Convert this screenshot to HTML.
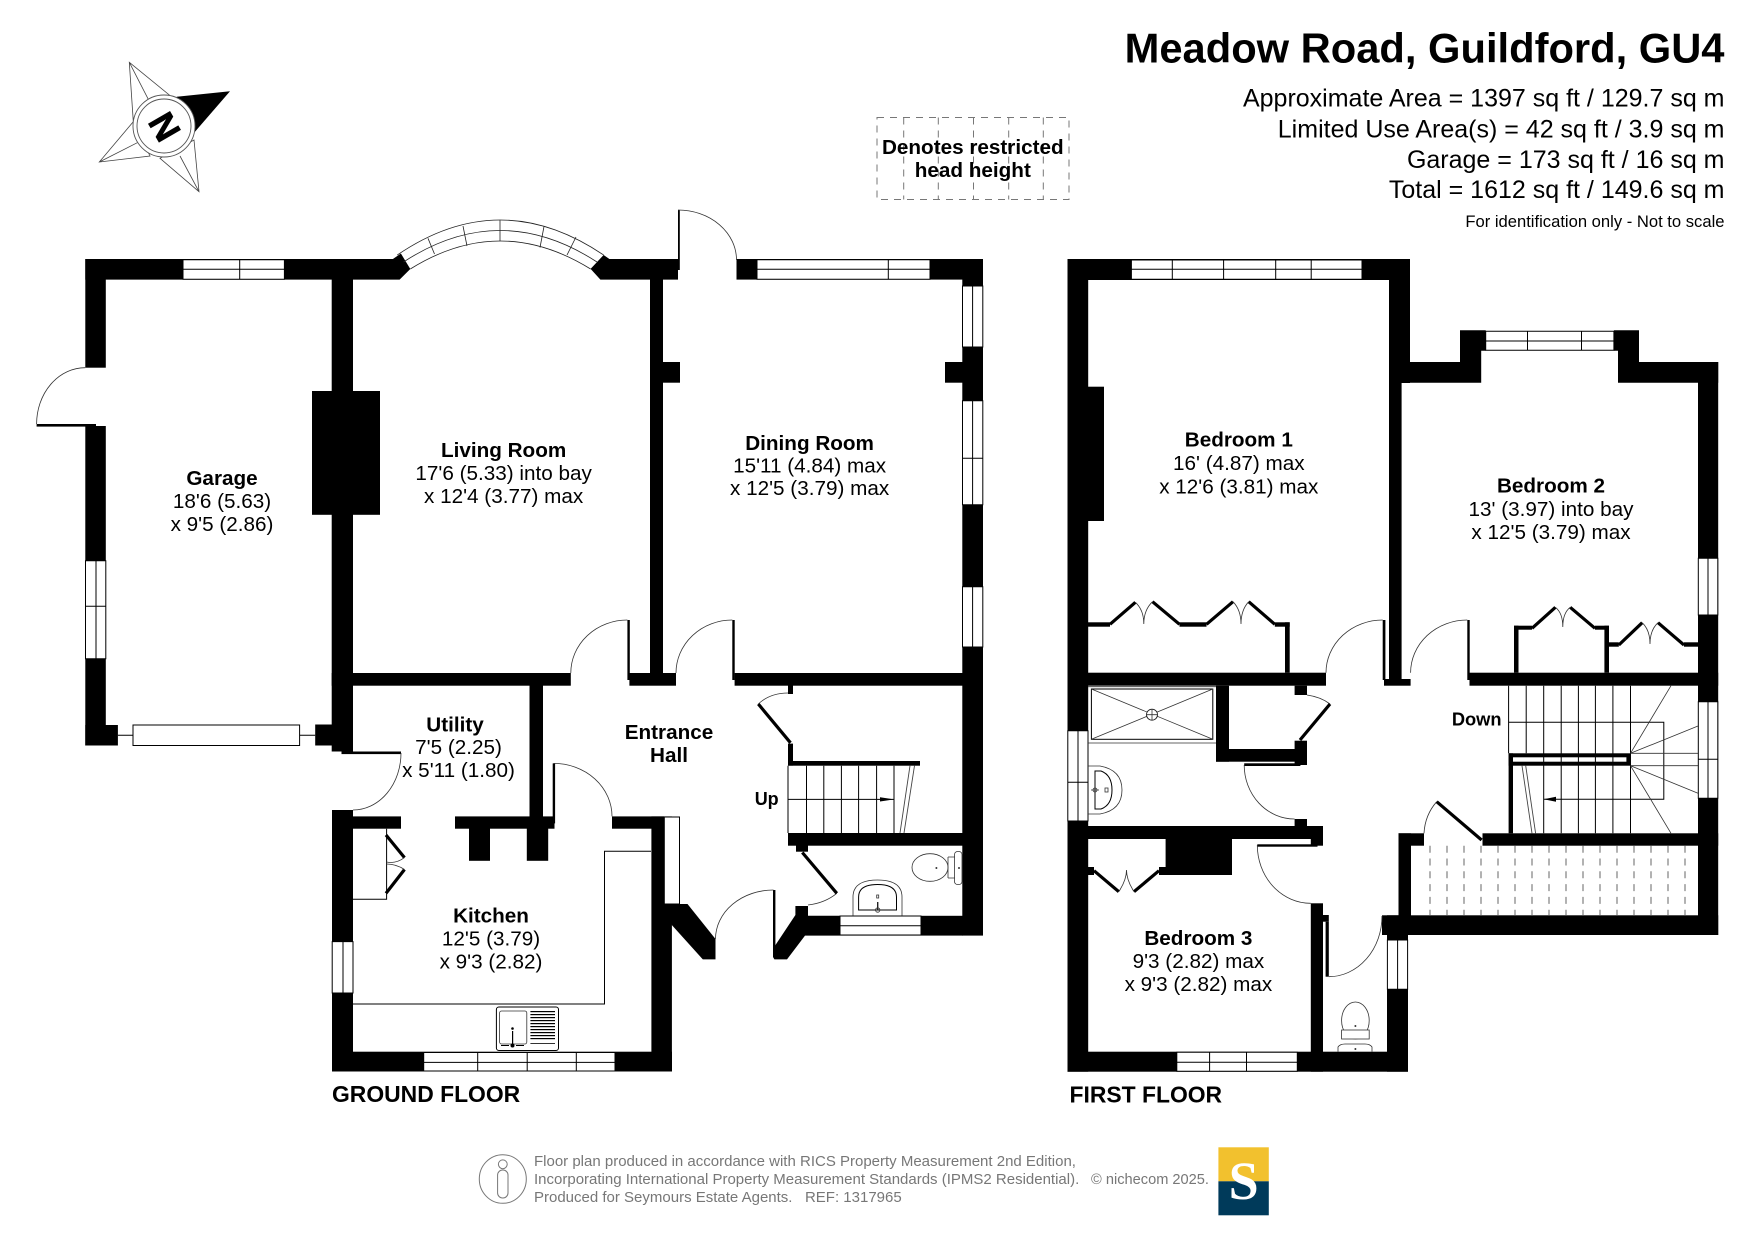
<!DOCTYPE html>
<html>
<head>
<meta charset="utf-8">
<title>Meadow Road, Guildford, GU4</title>
<style>
html,body{margin:0;padding:0;background:#fff}
svg{display:block}
text{font-family:"Liberation Sans",Arial,sans-serif;fill:#000}
.n{font-weight:bold;font-size:20.7px;text-anchor:middle}
.d{font-size:20.7px;text-anchor:middle}
.a{font-size:25px;text-anchor:end}
.f{font-size:15px;fill:#777}
.t{fill:none;stroke:#000;stroke-width:1}
.w{fill:#fff;stroke:#000;stroke-width:1}
.k{fill:none;stroke:#000;stroke-width:3.2}
.h{fill:none;stroke:#333;stroke-width:.8}
</style>
</head>
<body>
<svg xmlns="http://www.w3.org/2000/svg" width="1755" height="1241" viewBox="0 0 1755 1241">
<rect width="1755" height="1241" fill="#fff"/>

<!-- Compass -->
<g fill="#fff" stroke="#444" stroke-width=".8">
<path d="M129.3,62.3L169.3,95L133.3,121.7ZM129.3,62.3L148.3,99.3"/>
<path d="M99.3,162L133.3,121.7L150,156ZM99.3,162L137.3,142.7"/>
<path d="M199,191.7L160,158.3L194,140ZM199,191.7L180,156"/>
</g>
<path d="M176.7,96.7L230,91.3L195,131.7Z" fill="#000"/>
<circle cx="164" cy="126" r="31" fill="#fff" stroke="#555" stroke-width=".9"/>
<circle cx="164" cy="126" r="27" fill="#fff" stroke="#555" stroke-width=".9"/>
<text x="0" y="0" font-size="36" font-weight="bold" text-anchor="middle" stroke="#000" stroke-width=".7" transform="translate(165,126.5) rotate(60) translate(0,13)">N</text>

<!-- Restricted key -->
<g fill="none" stroke="#777" stroke-width="1" stroke-dasharray="7 6">
<rect x="877" y="117.5" width="192" height="82"/>
<path d="M903.7,117.5V199.5M938.3,117.5V199.5M973.5,117.5V199.5M1008.7,117.5V199.5M1043.3,117.5V199.5"/>
</g>
<text class="n" x="972.8" y="154">Denotes restricted</text>
<text class="n" x="972.8" y="177">head height</text>

<!-- Header -->
<text x="1724.5" y="62.7" font-size="41.7" font-weight="bold" text-anchor="end">Meadow Road, Guildford, GU4</text>
<text class="a" x="1724.5" y="106.7">Approximate Area = 1397 sq ft / 129.7 sq m</text>
<text class="a" x="1724.5" y="137.7">Limited Use Area(s) = 42 sq ft / 3.9 sq m</text>
<text class="a" x="1724.5" y="168">Garage = 173 sq ft / 16 sq m</text>
<text class="a" x="1724.5" y="198">Total = 1612 sq ft / 149.6 sq m</text>
<text x="1724.5" y="227" font-size="16.6" text-anchor="end">For identification only - Not to scale</text>

<!-- GROUND FLOOR WALLS -->
<g fill="#000">
<path d="M85.3,259H392.9L400.9,253.5L410.3,269L399.6,279.6H85.3Z"/>
<path d="M600.4,279.6L590.6,268.9L603.6,255L609.4,259H678V279.6Z"/>
<rect x="736.5" y="259" width="246.5" height="20.6"/>
<rect x="962.3" y="259" width="20.7" height="676.6"/>
<rect x="85.3" y="259" width="20.5" height="108.7"/>
<rect x="85.3" y="426" width="20.5" height="319.5"/>
<rect x="36.6" y="424" width="59.4" height="2.6"/>
<rect x="85.3" y="725" width="32.6" height="20.5"/>
<rect x="315.2" y="724.5" width="17" height="21"/>
<rect x="331.7" y="279" width="21.3" height="472.5"/>
<rect x="312" y="391" width="68" height="123.8"/>
<rect x="341.5" y="751.5" width="59.5" height="2.6"/>
<rect x="650" y="279" width="13" height="406"/>
<rect x="663" y="362" width="17" height="20.7"/>
<rect x="945" y="362" width="18" height="20.7"/>
<rect x="678" y="210" width="1.8" height="60"/>
<rect x="331.7" y="673" width="239.1" height="12.7"/>
<rect x="629.4" y="673" width="46.6" height="12.7"/>
<rect x="734.6" y="673" width="228" height="12.7"/>
<rect x="627.4" y="620" width="2.4" height="60"/>
<rect x="732.3" y="620" width="2.4" height="60"/>
<rect x="529.5" y="685" width="13.5" height="135"/>
<rect x="332" y="810" width="21" height="261.5"/>
<rect x="353" y="816.4" width="48" height="12.3"/>
<rect x="455" y="816.4" width="99.5" height="12.3"/>
<rect x="469" y="828" width="21" height="32.8"/>
<rect x="526.8" y="828" width="21.4" height="32.8"/>
<rect x="552.7" y="763.4" width="2.4" height="60"/>
<rect x="612" y="816.4" width="52" height="12.3"/>
<rect x="651.4" y="816.4" width="20.5" height="255.1"/>
<rect x="332" y="1051.7" width="340" height="19.8"/>
<path d="M664,904H687.5L715.5,939V959.4H702.8L671.8,925Z"/>
<rect x="773" y="890" width="2.4" height="60"/>
<path d="M773,948.7L795.4,915V906H808V915.8H840V935.6H805L787,959.4H774.4L773,957Z"/>
<rect x="840" y="915.8" width="123" height="19.8"/>
<rect x="788" y="685" width="5" height="9"/>
<rect x="788" y="743.6" width="5" height="22"/>
<rect x="788" y="761" width="132" height="4.7"/>
<rect x="788" y="833" width="175" height="12.7"/>
<rect x="796" y="845" width="12" height="6.7"/>
</g>

<!-- ground floor windows -->
<path class="w" d="M183,259.8H284.4V279.3H183ZM183,269.3H284.4M239.7,259.8V279.3"/>
<path class="w" d="M757,259.8H930V279.3H757ZM757,269.3H930M888.3,259.8V279.3"/>
<path class="w" d="M962.5,286H982.8V347H962.5ZM972.6,286V347"/>
<path class="w" d="M962.5,400.7H982.8V504.7H962.5ZM972.6,400.7V504.7M962.5,458.3H982.8"/>
<path class="w" d="M962.5,586.7H982.8V647H962.5ZM972.6,586.7V647"/>
<path class="w" d="M85.5,560.7H105.8V658.8H85.5ZM96,560.7V658.8M85.5,606.2H105.8"/>
<path class="w" d="M332.2,941.6H353V993H332.2ZM343,941.6V993"/>
<path class="w" d="M423.7,1052.5H615V1071H423.7ZM423.7,1062.4H615M477.7,1052.5V1071M527.2,1052.5V1071M576.3,1052.5V1071"/>
<path class="w" d="M840,916H921V935H840ZM840,925.7H921"/>
<path class="w" d="M664.3,817H679.5V904H664.3Z"/>
<rect class="w" x="133" y="725" width="166.6" height="20.5"/>
<path class="t" d="M117.9,735.2H133M299.6,735.2H315.2"/>

<!-- bay -->
<g fill="none" stroke="#222" stroke-width=".8">
<path d="M397.3,255Q500,185 603.6,255"/>
<path d="M403.5,262Q500,199 597,262"/>
<path d="M410.3,269Q500,213 590.6,269"/>
<path d="M428,238.3L434.5,254M463,226L467,246M500,220.3V241.2M544,226.5L540,247.5M576,237L567,255"/>
</g>

<!-- ground floor doors -->
<g class="h">
<path d="M85.3,367.7A48.7,56.3 0 0 0 36.6,424"/>
<path d="M678,210A58.5,50 0 0 1 736.5,260"/>
<path d="M627.4,620A56.6,53 0 0 0 570.8,673"/>
<path d="M732.3,620A56.3,53 0 0 0 676,673"/>
<path d="M401,753A48,57 0 0 1 353,810"/>
<path d="M553.6,763.4A58.4,53 0 0 1 612,816.4"/>
<path d="M773.5,890A58,49 0 0 0 715.5,939"/>
<path d="M788,693Q770,693 758.3,704"/>
<path d="M836.8,893.3Q825,903 808,905"/>
</g>
<path class="k" d="M758.3,704L790.5,742.8M802.3,852.5L836.8,893.3"/>

<!-- Kitchen fittings -->
<path class="t" d="M651,851.3H604.5V1004H353"/>
<path class="t" d="M353,899.2H386.6V828.7"/>
<path class="k" d="M386,835L404.5,857.6M404.5,869.5L386,893.3"/>
<path class="h" d="M404.5,857.6Q396,864 386.5,862M404.5,869.5Q396,864 386.5,864"/>
<rect class="t" x="496.4" y="1007" width="62.1" height="43.5" rx="2.5"/>
<rect class="h" x="499.6" y="1011" width="27.2" height="33" rx="2"/>
<g fill="#000">
<rect x="530.4" y="1011" width="24.6" height="1.2"/><rect x="530.4" y="1014" width="24.6" height="1.2"/><rect x="530.4" y="1017" width="24.6" height="1.2"/><rect x="530.4" y="1020" width="24.6" height="1.2"/><rect x="530.4" y="1023" width="24.6" height="1.2"/><rect x="530.4" y="1026" width="24.6" height="1.2"/><rect x="530.4" y="1029" width="24.6" height="1.2"/><rect x="530.4" y="1032" width="24.6" height="1.2"/><rect x="530.4" y="1035" width="24.6" height="1.2"/><rect x="530.4" y="1038" width="24.6" height="1.2"/><rect x="530.4" y="1043" width="24.6" height=".8"/>
<rect x="512" y="1031" width="1.2" height="15"/>
<circle cx="512.5" cy="1028.5" r="1.3"/>
<circle cx="512.5" cy="1045.5" r="2"/>
<rect x="501" y="1045" width="8" height="1"/>
<rect x="516" y="1045" width="8" height="1"/>
</g>

<!-- Ground stairs -->
<path class="t" d="M788,765.7V833M806.5,765.7V833M823.8,765.7V833M841.4,765.7V833M858.6,765.7V833M876.6,765.7V833M894,765.7V833M788,799.4H894"/>
<path d="M880,797.3L894,799.4L880,801.5Z" fill="#000"/>
<path d="M910,765.7L900,833M914.5,765.7L904,833" fill="none" stroke="#444" stroke-width=".9"/>

<!-- Ground WC -->
<path class="h" d="M853,915.8V897Q853,880 877.5,880Q902,880 902,897V915.8"/>
<path class="t" d="M858.6,910V897Q858.6,884.5 877.5,884.5Q896.5,884.5 896.5,897V910H858.6Z"/>
<rect class="h" x="876.7" y="895" width="2" height="3"/>
<path d="M877.7,902V910" stroke="#222" stroke-width="1.4"/>
<circle class="h" cx="877.7" cy="910" r="2.2"/>
<ellipse class="h" cx="930" cy="867.5" rx="18" ry="13.8"/>
<rect class="h" x="954.5" y="851.5" width="7.5" height="33" rx="3"/>
<path class="h" d="M948,857V878M948,857H955M948,878H955"/>
<circle cx="936.4" cy="868" r="1" fill="#333"/><circle cx="959" cy="868" r="1" fill="#333"/>

<!-- Ground labels -->
<text class="n" x="222" y="485">Garage</text>
<text class="d" x="222" y="508">18'6 (5.63)</text>
<text class="d" x="222" y="531">x 9'5 (2.86)</text>
<text class="n" x="503.6" y="456.8">Living Room</text>
<text class="d" x="503.6" y="480">17'6 (5.33) into bay</text>
<text class="d" x="503.6" y="503">x 12'4 (3.77) max</text>
<text class="n" x="809.6" y="450">Dining Room</text>
<text class="d" x="809.6" y="472.4">15'11 (4.84) max</text>
<text class="d" x="809.6" y="495">x 12'5 (3.79) max</text>
<text class="n" x="455" y="731.7">Utility</text>
<text class="d" x="458.5" y="754.2">7'5 (2.25)</text>
<text class="d" x="458.5" y="777.2">x 5'11 (1.80)</text>
<text class="n" x="491" y="922.6">Kitchen</text>
<text class="d" x="491" y="945.6">12'5 (3.79)</text>
<text class="d" x="491" y="968.6">x 9'3 (2.82)</text>
<text class="n" x="669" y="738.8">Entrance</text>
<text class="n" x="669" y="761.8">Hall</text>
<text x="766.7" y="805" font-size="18" font-weight="bold" text-anchor="middle">Up</text>
<text x="332" y="1102" font-size="22.9" font-weight="bold">GROUND FLOOR</text>

<!-- FIRST FLOOR WALLS -->
<g fill="#000">
<rect x="1067.5" y="259" width="342.5" height="21"/>
<rect x="1067.5" y="259" width="20.7" height="812.7"/>
<rect x="1088" y="386.7" width="16" height="134.3"/>
<rect x="1389" y="259" width="21" height="124"/>
<rect x="1389" y="362" width="12.6" height="317"/>
<path d="M1410,362H1460V330.3H1485.7V350.7H1481.2V382.7H1401V362Z"/>
<path d="M1613.9,330.3H1639V362H1718.2V382.7H1618V350.7H1613.9Z"/>
<rect x="1698" y="362" width="20.2" height="573"/>
<rect x="1088" y="672.7" width="238" height="13"/>
<rect x="1382.7" y="620" width="2.7" height="60"/>
<rect x="1384" y="679" width="26.6" height="6.7"/>
<rect x="1467.3" y="620" width="2.4" height="60"/>
<rect x="1469.5" y="672.7" width="248.7" height="13"/>
<rect x="1216" y="685.7" width="13" height="76"/>
<rect x="1216" y="749" width="91" height="12.7"/>
<rect x="1294.6" y="740.7" width="12.4" height="24.3"/>
<rect x="1294.6" y="685.7" width="12.4" height="9.3"/>
<rect x="1244.2" y="763.3" width="56.2" height="2.7"/>
<rect x="1294.6" y="819" width="12.4" height="8"/>
<rect x="1067.5" y="826" width="255.5" height="13"/>
<rect x="1310.8" y="826" width="12.2" height="19.7"/>
<rect x="1257.3" y="844.3" width="60.2" height="2.4"/>
<rect x="1165.6" y="839" width="66.4" height="36"/>
<rect x="1088" y="867" width="6" height="8"/>
<rect x="1159" y="867" width="7" height="8"/>
<rect x="1310.8" y="903.3" width="12.2" height="168.4"/>
<rect x="1323" y="915" width="5.8" height="6.7"/>
<rect x="1325.6" y="921.7" width="3.2" height="55"/>
<rect x="1387" y="915.3" width="21" height="156.4"/>
<rect x="1382" y="915.3" width="336.2" height="19.7"/>
<rect x="1398.5" y="833.3" width="12.5" height="85"/>
<rect x="1398.5" y="833.3" width="25.5" height="12.4"/>
<rect x="1482.5" y="833.3" width="235.7" height="12.4"/>
<rect x="1067.5" y="1051.7" width="340.5" height="20"/>
<rect x="1508.6" y="753.3" width="121.6" height="12.4"/>
<rect x="1508.6" y="753.3" width="4.4" height="80"/>
<rect x="1088" y="622.3" width="22" height="4.4"/>
<rect x="1179.5" y="622.3" width="27" height="4.4"/>
<rect x="1274.8" y="622.3" width="14.9" height="4.4"/>
<rect x="1285" y="622.3" width="4.7" height="50.4"/>
<rect x="1514" y="625.7" width="18" height="4"/>
<rect x="1514" y="625.7" width="4.5" height="47"/>
<rect x="1595" y="625.7" width="14" height="4"/>
<rect x="1604.4" y="625.7" width="4.6" height="47"/>
<rect x="1609" y="642.3" width="9.8" height="4.4"/>
<rect x="1684" y="642.3" width="14" height="4.4"/>
</g>
<rect x="1513" y="757.3" width="113.4" height="4.4" fill="#fff"/>

<!-- first floor windows -->
<path class="w" d="M1131.4,260H1362V279.3H1131.4ZM1131.4,269.3H1362M1172.3,260V279.3M1223.6,260V279.3M1275.7,260V279.3M1311.2,260V279.3"/>
<path class="w" d="M1485.7,331.3H1613.9V350.3H1485.7ZM1485.7,341H1613.9M1527.5,331.3V350.3M1581.5,331.3V350.3"/>
<path class="w" d="M1698.3,558.3H1717.8V615H1698.3ZM1708,558.3V615"/>
<path class="w" d="M1698.3,701.7H1717.8V798.3H1698.3ZM1708,701.7V798.3M1698.3,759.3H1717.8"/>
<path class="w" d="M1067.8,730.7H1088V821H1067.8ZM1078,730.7V821M1067.8,782.3H1088"/>
<path class="w" d="M1176.8,1052.2H1297.3V1071.2H1176.8ZM1176.8,1062.3H1297.3M1209.6,1052.2V1071.2M1246.5,1052.2V1071.2"/>
<path class="w" d="M1387.4,940H1407.6V989.3H1387.4ZM1397.6,940V989.3"/>

<!-- first floor doors -->
<g class="h">
<path d="M1382.7,620A56.7,52.7 0 0 0 1326,672.7"/>
<path d="M1467.3,620A56.7,52.7 0 0 0 1410.6,672.7"/>
<path d="M1244.2,765A50.4,54 0 0 0 1294.6,819"/>
<path d="M1257.3,845A53.5,58.3 0 0 0 1310.8,903.3"/>
<path d="M1328.8,976.7A53.2,60.7 0 0 0 1382,916"/>
<path d="M1424,833.3Q1425,815 1436.7,801.7"/>
<path d="M1307,695Q1321,697 1330,704"/>
</g>
<path class="k" d="M1330,704L1300,740M1436.7,801.7L1481.6,840"/>

<!-- wardrobes -->
<path class="k" d="M1110,624.3L1135.4,602.3M1152.5,601.7L1179.5,624.3M1206.5,624.3L1233,601.7M1248.7,601.7L1274.8,624.3M1532,628.3L1555.4,607.3M1570.2,607.3L1595,628.3M1618.8,645L1642.2,622.7M1658,622.7L1684,645M1094,870.7L1118.8,891.7M1134,891.7L1159,870.7"/>
<path class="h" d="M1135.4,602.3Q1143.8,610 1143.8,624Q1143.8,610 1152.5,601.7M1233,601.7Q1241,610 1241,624Q1241,610 1248.7,601.7M1555.4,607.3Q1562.8,613 1562.8,627Q1562.8,613 1570.2,607.3M1642.2,622.7Q1650,630 1650,644Q1650,630 1658,622.7M1118.8,891.7Q1126.5,880 1126.5,870Q1126.5,880 1134,891.7"/>

<!-- bathroom -->
<path class="h" d="M1088,686.7H1216M1088,743H1216"/>
<rect class="t" x="1091.4" y="689" width="121.4" height="50.3"/>
<path class="h" d="M1091.4,689L1212.8,739.3M1212.8,689L1091.4,739.3"/>
<circle cx="1152" cy="714.7" r="5.5" fill="#fff" stroke="#222" stroke-width=".9"/>
<path class="h" d="M1146.5,714.7H1157.5M1152,709.2V720.2"/>
<path class="h" d="M1088,766H1100Q1122,770 1122,790Q1122,810 1100,814H1088"/>
<path class="t" d="M1095,771H1101Q1112,775 1112,790Q1112,805 1101,809H1095Z"/>
<rect class="h" x="1105" y="788" width="3" height="4"/>
<path class="h" d="M1091,790H1099"/>
<circle class="h" cx="1095" cy="790" r="2"/>

<!-- first floor stairs -->
<path class="t" d="M1508.6,685.7V753.3M1526.2,685.7V753.3M1543.7,685.7V833.3M1561.2,685.7V833.3M1578.4,685.7V833.3M1595.4,685.7V833.3M1612.9,685.7V833.3M1630.5,685.7V833.3"/>
<path class="t" d="M1508.6,722.3H1663.8V799.3H1543.7"/>
<path d="M1556,796.8L1543.7,799.3L1556,801.8Z" fill="#000"/>
<path class="h" d="M1630.5,753.3L1671,685.7M1630.5,753.3L1698,726M1630.5,753.3H1698M1630.5,765.7H1698M1630.5,765.7L1698,793.3M1630.5,765.7L1671,833.3"/>
<path d="M1522,765.7L1532,833.3M1525.7,765.7L1535.6,833.3" fill="none" stroke="#444" stroke-width=".9"/>

<!-- restricted area dashes -->
<path d="M1430,845.7V915M1447,845.7V915M1464,845.7V915M1481,845.7V915M1498,845.7V915M1515,845.7V915M1532,845.7V915M1549,845.7V915M1566,845.7V915M1583,845.7V915M1600,845.7V915M1617,845.7V915M1634,845.7V915M1651,845.7V915M1668,845.7V915M1685,845.7V915" fill="none" stroke="#666" stroke-width="1" stroke-dasharray="7 5.8"/>

<!-- first WC -->
<ellipse class="h" cx="1355.4" cy="1020.5" rx="13.8" ry="18.5"/>
<rect x="1341.6" y="1030" width="27.6" height="9" fill="#fff" stroke="#333" stroke-width=".8"/>
<path class="h" d="M1338,1051.7V1047Q1340,1044 1345,1044H1365Q1370,1044 1372,1047V1051.7"/>
<circle cx="1355.4" cy="1026" r="1" fill="#333"/><circle cx="1355.4" cy="1049" r="1" fill="#333"/>

<!-- first labels -->
<text class="n" x="1238.8" y="446.7">Bedroom 1</text>
<text class="d" x="1238.8" y="470">16' (4.87) max</text>
<text class="d" x="1238.8" y="493.3">x 12'6 (3.81) max</text>
<text class="n" x="1551" y="492.7">Bedroom 2</text>
<text class="d" x="1551" y="516">13' (3.97) into bay</text>
<text class="d" x="1551" y="539">x 12'5 (3.79) max</text>
<text class="n" x="1198.4" y="945">Bedroom 3</text>
<text class="d" x="1198.4" y="968">9'3 (2.82) max</text>
<text class="d" x="1198.4" y="991">x 9'3 (2.82) max</text>
<text x="1476.7" y="725.7" font-size="18.3" font-weight="bold" text-anchor="middle">Down</text>
<text x="1069.5" y="1102.5" font-size="22.9" font-weight="bold">FIRST FLOOR</text>

<!-- footer -->
<ellipse cx="502.8" cy="1179" rx="23.5" ry="24.3" fill="none" stroke="#777" stroke-width="1"/>
<circle cx="502.8" cy="1164.3" r="4.4" fill="none" stroke="#777" stroke-width="1"/>
<rect x="497.6" y="1170" width="10.4" height="28" rx="5" fill="none" stroke="#777" stroke-width="1"/>
<text class="f" x="534" y="1166">Floor plan produced in accordance with RICS Property Measurement 2nd Edition,</text>
<text class="f" x="534" y="1184">Incorporating International Property Measurement Standards (IPMS2 Residential).</text>
<text class="f" x="534" y="1202">Produced for Seymours Estate Agents. &#160; REF: 1317965</text>
<text class="f" x="1091" y="1184" textLength="118" lengthAdjust="spacingAndGlyphs">© nichecom 2025.</text>
<rect x="1218.4" y="1147.3" width="50.4" height="34" fill="#f2c12e"/>
<rect x="1218.4" y="1181.3" width="50.4" height="34" fill="#003a5a"/>
<text x="1243.6" y="1199" font-size="54" font-weight="bold" text-anchor="middle" style="font-family:'Liberation Serif',serif;fill:#fff">S</text>
</svg>
</body>
</html>
